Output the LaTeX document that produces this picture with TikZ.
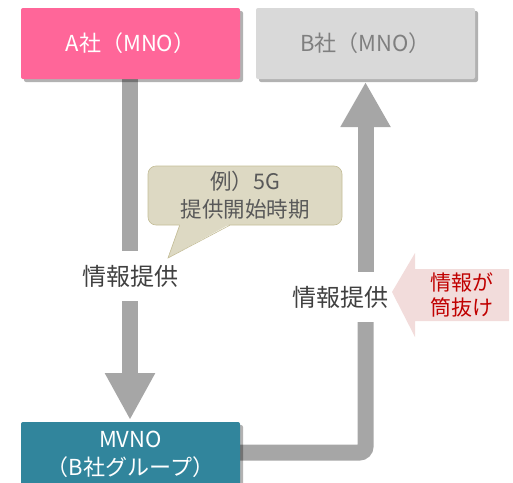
\documentclass[tikz,border=0pt]{standalone}
\usepackage{fontspec}
\setmainfont{Noto Sans CJK JP}
\usetikzlibrary{arrows.meta,shadows,calc}
\definecolor{pinkA}{HTML}{FF6699}
\definecolor{grayB}{HTML}{D9D9D9}
\definecolor{grayBtext}{HTML}{7F7F7F}
\definecolor{tealM}{HTML}{31859C}
\definecolor{barc}{HTML}{A6A6A6}
\definecolor{callfill}{HTML}{DDD9C3}
\definecolor{callline}{HTML}{C4BD97}
\definecolor{calltext}{HTML}{595959}
\definecolor{warnfill}{HTML}{F2DCDB}
\definecolor{warntext}{HTML}{C00000}
\definecolor{labtext}{HTML}{404040}
\begin{document}
\begin{tikzpicture}[x=1pt,y=-1pt,
  box/.style={rectangle, rounded corners=2pt, minimum width=219pt, inner sep=0pt, align=center,
    font=\fontsize{22}{28}\selectfont,
    drop shadow={shadow xshift=3pt, shadow yshift=-3pt, opacity=0.3, fill=black}},
  lab/.style={inner sep=0pt, minimum height=50pt, text=labtext, font=\fontsize{24}{28}\selectfont},
  bar/.style={draw=barc, line width=16pt},
  headL/.style={-{Triangle[length=47pt,width=47pt]}},
  headR/.style={-{Triangle[length=45pt,width=47pt]}},
  calloutbox/.style={rectangle, rounded corners=8pt, fill=callfill, draw=callline, line width=0.6pt,
    minimum width=194pt, minimum height=59pt, inner sep=0pt, align=center, text=calltext,
    font=\fontsize{21.5}{28}\selectfont},
  warntxt/.style={inner sep=0pt, align=center, text=warntext, font=\fontsize{21}{25}\selectfont}
]
\useasboundingbox (0,0) rectangle (513,482);

% labels
\node[lab] (L1) at (130,276) {情報提供};
\node[lab] (L2) at (340,297) {情報提供};

% helper coordinates
\coordinate (Ac) at (130.5,43.5);
\coordinate (Bc) at (365.5,43.5);
\coordinate (C) at (365.5,452.5);

% bars
\draw[bar] (130,79) coordinate (As) -- (As |- L1.north);
\draw[bar, headL] (As |- L1.south) -- (130,420) coordinate (Mn);
\draw[bar, rounded corners=6pt] (240,452.5) coordinate (Me) -- (C) -- (C |- L2.south);
\draw[bar, headR] (C |- L2.north) -- (365.5,82) coordinate (Bs);

% boxes
\node[box, fill=pinkA, text=white, minimum height=71pt] (A) at (Ac) {A社（MNO）};
\node[box, fill=grayB, text=grayBtext, minimum height=71pt] (B) at (Bc) {B社（MNO）};
\node[box, fill=tealM, text=white, minimum height=64pt] (M) at (130.5,454) {MVNO\\（B社グループ）};

% callout
\node[calloutbox] (CO) at (245,195.5) {例）5G\\提供開始時期};
\coordinate (tip) at (168,258);
\fill[callfill] ($(CO.south west)+(32,-1.2)$) -- (tip) -- ($(CO.south west)+(82,-1.2)$) -- cycle;
\draw[callline, line width=0.6pt] ($(CO.south west)+(32,0)$) -- (tip) -- ($(CO.south west)+(82,0)$);

% warning arrow
\fill[warnfill] (392,292) -- (415,253) -- (415,269) -- (509,269) -- (509,321) -- (415,321) -- (415,337) -- cycle;
\node[warntxt] (W) at (462,295) {情報が\\筒抜け};
\end{tikzpicture}
\end{document}
